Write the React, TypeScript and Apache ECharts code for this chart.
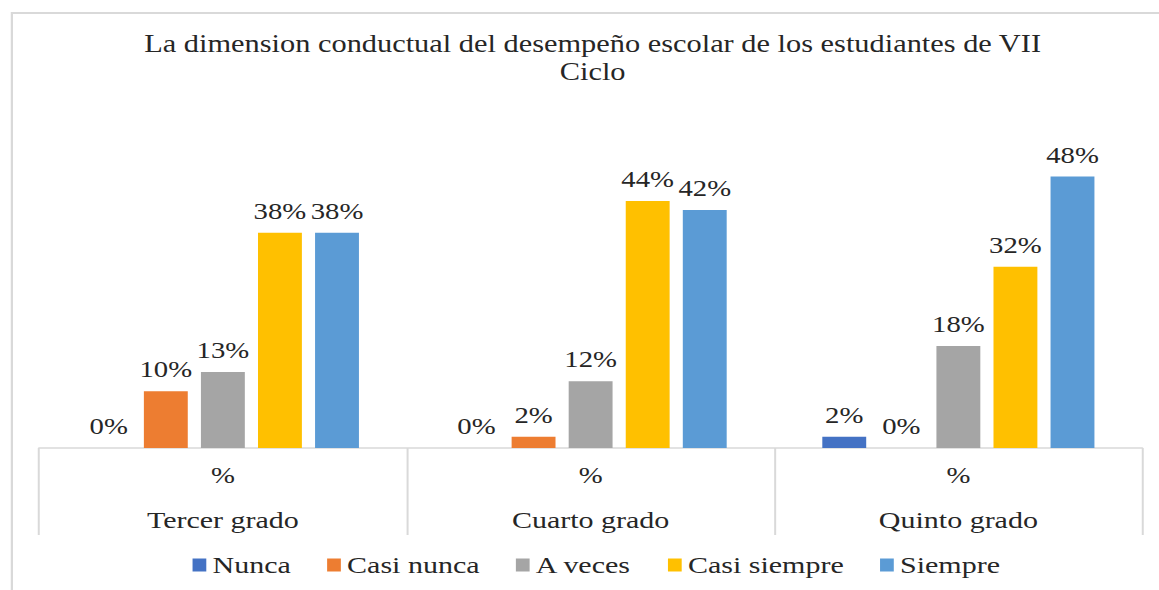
import React, { useEffect, useRef } from "react";
import * as echarts from "echarts";

const grades = ["Tercer grado", "Cuarto grado", "Quinto grado"];
const seriesNames = ["Nunca", "Casi nunca", "A veces", "Casi siempre", "Siempre"];
const nunca = [0, 0, 2];
const casiNunca = [10, 2, 0];
const aVeces = [13.4, 11.8, 18];
const casiSiempre = [38, 43.6, 32];
const siempre = [38, 42, 47.9];
const colors = ["#4472C4", "#ED7D31", "#A5A5A5", "#FFC000", "#5B9BD5"];
const titleText = "La dimension conductual del desempeño escolar de los estudiantes de VII\nCiclo";
const subLabel = "%";

const FONT = "Liberation Serif";
const TXT = "#262626";
const W = 927;
const H = 590;
const S = 1159 / W;

export default function App() {
  const ref = useRef<HTMLDivElement>(null);
  useEffect(() => {
    if (!ref.current) return;
    const chart = echarts.init(ref.current, undefined, { renderer: "svg" });
    const values = [nunca, casiNunca, aVeces, casiSiempre, siempre];
    chart.setOption({
      animation: false,
      backgroundColor: "#ffffff",
      textStyle: { fontFamily: FONT },
      title: {
        text: titleText,
        left: 469,
        top: 25,
        textAlign: "center",
        textStyle: {
          fontFamily: FONT,
          fontSize: 24.3,
          lineHeight: 28,
          fontWeight: "normal",
          color: TXT,
        },
      },
      graphic: [
        {
          type: "rect",
          shape: { x: 9.5, y: 13, width: 2000, height: 2000 },
          style: { fill: "none", stroke: "#d9d9d9", lineWidth: 1.8 },
          silent: true,
          z: -1,
        },
      ],
      legend: {
        data: seriesNames,
        left: 149,
        top: 548,
        icon: "rect",
        itemWidth: 11,
        itemHeight: 13,
        itemGap: 29,
        textStyle: { fontFamily: FONT, fontSize: 24, color: TXT },
      },
      grid: { left: 31.2, right: 13.4, top: 108, bottom: 142, containLabel: false },
      xAxis: {
        type: "category",
        data: grades,
        axisLine: { show: true, lineStyle: { color: "#d9d9d9", width: 1.6 } },
        axisTick: {
          show: true,
          length: 87,
          interval: 0,
          alignWithLabel: false,
          lineStyle: { color: "#d9d9d9", width: 1.6 },
        },
        axisLabel: {
          interval: 0,
          margin: 6,
          fontFamily: FONT,
          formatter: (v: string) => `{p|${subLabel}}\n{c|${v}}`,
          rich: {
            p: { fontFamily: FONT, fontSize: 23, lineHeight: 44, color: TXT },
            c: { fontFamily: FONT, fontSize: 24, lineHeight: 44, color: TXT },
          },
        },
      },
      yAxis: {
        type: "value",
        min: 0,
        max: 60,
        show: false,
        splitLine: { show: false },
      },
      series: seriesNames.map((name, i) => ({
        name,
        type: "bar",
        data: values[i],
        barGap: "30%",
        barCategoryGap: "26%",
        itemStyle: { color: colors[i] },
        label: {
          show: true,
          position: "top",
          distance: 10,
          fontFamily: FONT,
          fontSize: 23,
          color: TXT,
          formatter: (p: any) => `${Math.round(p.value)}%`,
        },
      })),
    });
    return () => chart.dispose();
  }, []);
  return (
    <div
      style={{
        position: "absolute",
        left: 0,
        top: 0,
        width: 1159,
        height: H,
        overflow: "hidden",
        background: "#fff",
      }}
    >
      <div
        ref={ref}
        style={{
          width: W,
          height: H,
          transform: `scaleX(${S})`,
          transformOrigin: "0 0",
        }}
      />
    </div>
  );
}
